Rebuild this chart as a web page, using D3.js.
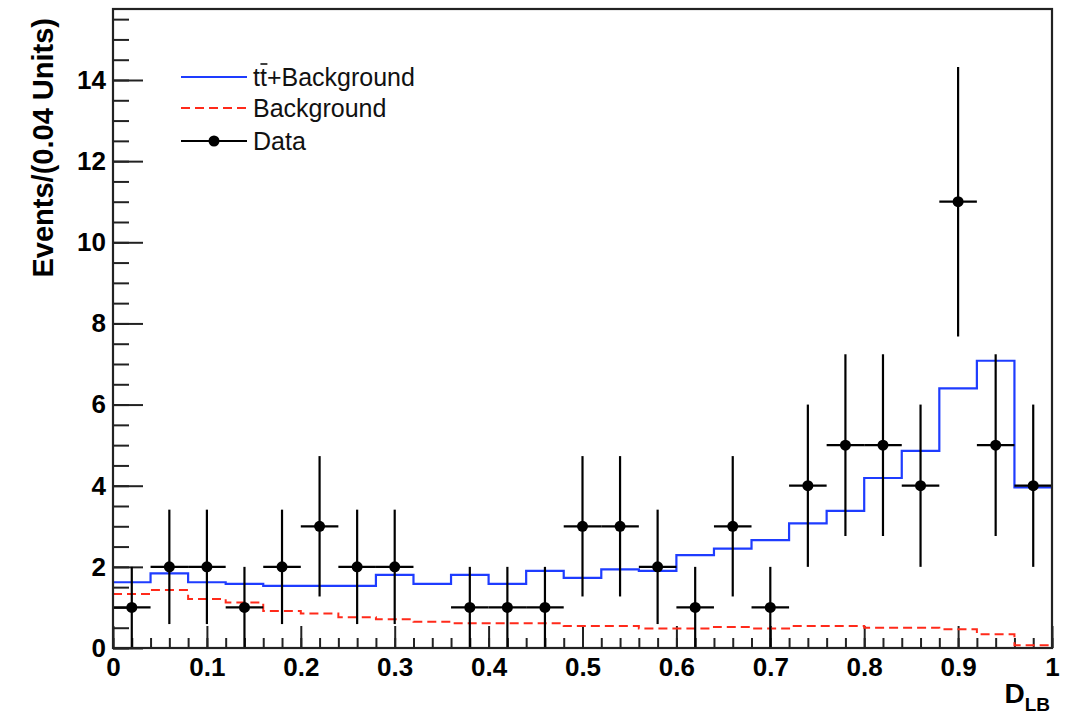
<!DOCTYPE html>
<html>
<head>
<meta charset="utf-8">
<script src="https://cdn.jsdelivr.net/npm/d3@7"></script>
<style>
  html, body { margin: 0; padding: 0; background: #fff; }
  svg { display: block; font-family: "Liberation Sans", Arial, Helvetica, sans-serif; }
</style>
</head>
<body>
<svg id="chart" width="1066" height="718"></svg>
<script>
// Bin centres of the D_LB histogram (bin width 0.04)
const binCenters = [0.02, 0.06, 0.10, 0.14, 0.18, 0.22, 0.26, 0.30, 0.34, 0.38,
                    0.42, 0.46, 0.50, 0.54, 0.58, 0.62, 0.66, 0.70, 0.74, 0.78,
                    0.82, 0.86, 0.90, 0.94, 0.98];
const binWidth = 0.04;

// Observed events per bin and their statistical errors
const dataCounts = [1, 2, 2, 1, 2, 3, 2, 2, 0, 1,
                    1, 1, 3, 3, 2, 1, 3, 1, 4, 5,
                    5, 4, 11, 5, 4];
const dataErrors = [1, 1.41, 1.41, 1, 1.41, 1.73, 1.41, 1.41, 0, 1,
                    1, 1, 1.73, 1.73, 1.41, 1, 1.73, 1, 2, 2.24,
                    2.24, 2, 3.32, 2.24, 2];

// Expected yields: ttbar + background, and background alone
const signalPlusBkg = [1.62, 1.84, 1.62, 1.58, 1.53, 1.53, 1.53, 1.80, 1.58, 1.80,
                       1.58, 1.90, 1.73, 1.94, 1.90, 2.29, 2.45, 2.66, 3.07, 3.38,
                       4.19, 4.86, 6.40, 7.08, 3.96];
const background    = [1.33, 1.43, 1.21, 1.12, 0.91, 0.85, 0.76, 0.71, 0.65, 0.61,
                       0.61, 0.61, 0.54, 0.54, 0.48, 0.48, 0.52, 0.48, 0.54, 0.54,
                       0.50, 0.50, 0.46, 0.34, 0.07];

// Axis ticks
const xMajorTicks = [0, 0.1, 0.2, 0.3, 0.4, 0.5, 0.6, 0.7, 0.8, 0.9, 1];
const xTickLabels = ["0", "0.1", "0.2", "0.3", "0.4", "0.5", "0.6", "0.7", "0.8", "0.9", "1"];
const yMajorTicks = [0, 2, 4, 6, 8, 10, 12, 14];
const yTickLabels = ["0", "2", "4", "6", "8", "10", "12", "14"];

const legendLabels = ["tt+Background", "Background", "Data"];

const svg = d3.select("#chart");
const plotLeft = 113, plotRight = 1052, plotTop = 9, plotBottom = 648;

const x = d3.scaleLinear().domain([0, 1]).range([plotLeft, plotRight]);
const y = d3.scaleLinear().domain([0, 15.75]).range([plotBottom, plotTop]);

const blue = "#1e3cff";
const red = "#ff2a1a";
const labelFont = "Liberation Sans, Arial, sans-serif";

// ---- axes ----
const xMinor = d3.range(0, 51).map(i => i * 0.02);
const yMinor = d3.range(0, 32).map(i => i * 0.5);

svg.append("g")
  .attr("transform", `translate(0,${plotBottom})`)
  .call(d3.axisBottom(x).tickValues(xMinor).tickSizeInner(-10).tickSizeOuter(0).tickFormat(""))
  .call(g => g.select(".domain").remove())
  .selectAll("line").attr("stroke", "#222").attr("stroke-width", 2);

svg.append("g")
  .attr("transform", `translate(0,${plotBottom})`)
  .call(d3.axisBottom(x).tickValues(xMajorTicks).tickSizeInner(-22).tickSizeOuter(0)
        .tickPadding(10).tickFormat((d, i) => xTickLabels[i]))
  .call(g => g.select(".domain").remove())
  .call(g => g.selectAll("line").attr("stroke", "#222").attr("stroke-width", 2))
  .call(g => g.selectAll("text").attr("font-size", 26).attr("font-weight", "bold")
        .attr("fill", "#000").attr("font-family", labelFont));

svg.append("g")
  .attr("transform", `translate(${plotLeft},0)`)
  .call(d3.axisLeft(y).tickValues(yMinor).tickSizeInner(-16).tickSizeOuter(0).tickFormat(""))
  .call(g => g.select(".domain").remove())
  .selectAll("line").attr("stroke", "#222").attr("stroke-width", 2);

svg.append("g")
  .attr("transform", `translate(${plotLeft},0)`)
  .call(d3.axisLeft(y).tickValues(yMajorTicks).tickSizeInner(-30).tickSizeOuter(0)
        .tickPadding(7).tickFormat((d, i) => yTickLabels[i]))
  .call(g => g.select(".domain").remove())
  .call(g => g.selectAll("line").attr("stroke", "#222").attr("stroke-width", 2))
  .call(g => g.selectAll("text").attr("font-size", 26).attr("font-weight", "bold")
        .attr("fill", "#000").attr("font-family", labelFont));

// ---- histograms ----
function stepPoints(values) {
  const pts = [];
  values.forEach((v, i) => {
    const c = binCenters[i];
    pts.push([c - binWidth / 2, v], [c + binWidth / 2, v]);
  });
  return pts;
}
const line = d3.line().x(d => x(d[0])).y(d => y(d[1]));

svg.append("path")
  .attr("d", line(stepPoints(background)))
  .attr("fill", "none").attr("stroke", red).attr("stroke-width", 2)
  .attr("stroke-dasharray", "9,5");

svg.append("path")
  .attr("d", line(stepPoints(signalPlusBkg)))
  .attr("fill", "none").attr("stroke", blue).attr("stroke-width", 2.2);

// ---- data points with errors ----
const pts = binCenters.map((c, i) => ({ c, n: dataCounts[i], e: dataErrors[i] }))
  .filter(d => d.n > 0);

const gData = svg.append("g").attr("stroke", "#000").attr("stroke-width", 2.2);
gData.selectAll("line.h").data(pts).join("line").attr("class", "h")
  .attr("x1", d => x(d.c - binWidth / 2)).attr("x2", d => x(d.c + binWidth / 2))
  .attr("y1", d => y(d.n)).attr("y2", d => y(d.n));
gData.selectAll("line.v").data(pts).join("line").attr("class", "v")
  .attr("x1", d => x(d.c)).attr("x2", d => x(d.c))
  .attr("y1", d => y(Math.max(0, d.n - d.e))).attr("y2", d => y(d.n + d.e));
svg.append("g").selectAll("circle").data(pts).join("circle")
  .attr("cx", d => x(d.c)).attr("cy", d => y(d.n)).attr("r", 5.5).attr("fill", "#000");

// ---- frame ----
svg.append("rect")
  .attr("x", plotLeft).attr("y", plotTop)
  .attr("width", plotRight - plotLeft).attr("height", plotBottom - plotTop)
  .attr("fill", "none").attr("stroke", "#222").attr("stroke-width", 2.2);

// ---- axis titles ----
svg.append("text")
  .attr("transform", `translate(53,18) rotate(-90)`)
  .attr("text-anchor", "end")
  .attr("font-size", 29).attr("font-weight", "bold")
  .text("Events/(0.04 Units)");

const xt = svg.append("text")
  .attr("x", 1050).attr("y", 703).attr("text-anchor", "end")
  .attr("font-weight", "bold").attr("font-size", 28);
xt.append("tspan").text("D");
xt.append("tspan").attr("font-size", 19).attr("dy", 8).text("LB");

// ---- legend ----
const legX1 = 181, legX2 = 247, legText = 253;
const legY = [77, 108, 141];
const leg = svg.append("g");
leg.append("line").attr("x1", legX1).attr("x2", legX2).attr("y1", legY[0]).attr("y2", legY[0])
  .attr("stroke", blue).attr("stroke-width", 2.2);
leg.append("line").attr("x1", legX1).attr("x2", legX2).attr("y1", legY[1]).attr("y2", legY[1])
  .attr("stroke", red).attr("stroke-width", 2).attr("stroke-dasharray", "9,5");
leg.append("line").attr("x1", legX1).attr("x2", legX2).attr("y1", legY[2]).attr("y2", legY[2])
  .attr("stroke", "#000").attr("stroke-width", 2.2);
leg.append("circle").attr("cx", (legX1 + legX2) / 2).attr("cy", legY[2]).attr("r", 5.5).attr("fill", "#000");

legendLabels.forEach((t, i) => {
  const txt = leg.append("text").attr("x", legText).attr("y", legY[i] + 9)
    .attr("font-size", 25).attr("fill", "#111").text(t);
  if (i === 0) {
    // overbar on the second t (anti-top quark)
    const node = txt.node();
    const x0 = node.getStartPositionOfChar(1).x;
    const x1 = node.getEndPositionOfChar(1).x;
    leg.append("line").attr("x1", x0 + 0.5).attr("x2", x1 + 0.5)
      .attr("y1", legY[i] - 13).attr("y2", legY[i] - 13)
      .attr("stroke", "#111").attr("stroke-width", 1.6);
  }
});
</script>
</body>
</html>
